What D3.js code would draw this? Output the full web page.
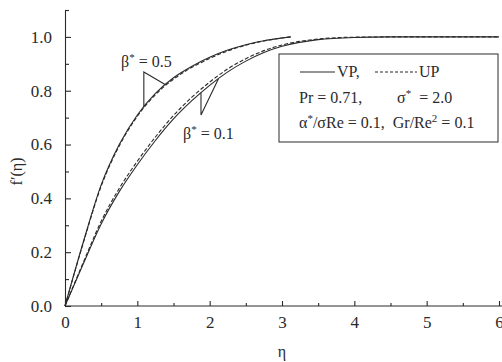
<!DOCTYPE html>
<html>
<head>
<meta charset="utf-8">
<script src="https://cdn.jsdelivr.net/npm/d3@7"></script>
<style>
  body { margin: 0; background: #fff; }
  svg text { font-family: "Liberation Serif", "Times New Roman", "DejaVu Serif", serif !important; }
  .axis path, .axis line { stroke: #2a2a2a; stroke-width: 1.1; }
  .axis text { font-size: 17px; fill: #2a2a2a; }
  .curve { fill: none; stroke: #2a2a2a; stroke-width: 1.1; }
  .lbl { font-size: 16px; fill: #2a2a2a; }
</style>
</head>
<body>
<div id="chart"></div>
<script>
// eta grid for each curve
const etaHigh = [0, 0.25, 0.5, 0.75, 1.0, 1.25, 1.5, 1.75, 2.0, 2.25, 2.5, 2.75, 3.0, 3.12];
const etaLow  = [0, 0.25, 0.5, 0.75, 1.0, 1.25, 1.5, 1.75, 2.0, 2.25, 2.5, 2.75, 3.0, 3.5, 4.0, 4.5, 5.0, 5.5, 6.0];

// beta* = 0.5
const vpHigh = [0, 0.235, 0.45, 0.60, 0.71, 0.79, 0.848, 0.89, 0.924, 0.951, 0.971, 0.986, 0.996, 1.0];
const upHigh = [0, 0.232, 0.445, 0.595, 0.705, 0.785, 0.843, 0.886, 0.92, 0.948, 0.969, 0.985, 0.996, 1.0];
// beta* = 0.1
const vpLow = [0, 0.155, 0.305, 0.425, 0.525, 0.615, 0.695, 0.762, 0.82, 0.87, 0.91, 0.942, 0.965, 0.99, 0.998, 1.0, 1.0, 1.0, 1.0];
const upLow = [0, 0.16, 0.315, 0.437, 0.538, 0.628, 0.708, 0.775, 0.832, 0.881, 0.919, 0.949, 0.97, 0.992, 0.999, 1.0, 1.0, 1.0, 1.0];

const xMajor = [0, 1, 2, 3, 4, 5, 6];
const xMinor = [0.5, 1.5, 2.5, 3.5, 4.5, 5.5];
const yMajor = [0.0, 0.2, 0.4, 0.6, 0.8, 1.0];
const yMinor = [0.1, 0.3, 0.5, 0.7, 0.9, 1.1];

const width = 502, height = 362;
const serif = "Liberation Serif, Times New Roman, serif";

const svg = d3.select("#chart").append("svg")
  .attr("width", width).attr("height", height)
  .attr("font-family", serif);

const x = d3.scaleLinear().domain([0, 6]).range([65, 499]);
const y = d3.scaleLinear().domain([0, 1.1]).range([306, 10]);

// axes, ticks point inward
svg.append("g").attr("class", "axis")
  .attr("transform", `translate(0,${y(0)})`)
  .call(d3.axisBottom(x).tickValues(xMinor).tickSize(-3).tickSizeOuter(0).tickFormat(""))
  .call(g => g.select(".domain").attr("d", `M${x(0)},0H${width}`));
svg.append("g").attr("class", "axis")
  .attr("transform", `translate(0,${y(0)})`)
  .call(d3.axisBottom(x).tickValues(xMajor).tickSize(-5).tickPadding(10).tickFormat(d3.format("d")))
  .call(g => g.select(".domain").remove());

svg.append("g").attr("class", "axis")
  .attr("transform", `translate(${x(0)},0)`)
  .call(d3.axisLeft(y).tickValues(yMinor).tickSize(-4).tickSizeOuter(0).tickFormat(""));
svg.append("g").attr("class", "axis")
  .attr("transform", `translate(${x(0)},0)`)
  .call(d3.axisLeft(y).tickValues(yMajor).tickSize(-6).tickPadding(13).tickFormat(d3.format(".1f")))
  .call(g => g.select(".domain").remove());

svg.selectAll(".axis").attr("font-family", serif);

// axis titles
svg.append("text").attr("class", "lbl")
  .attr("x", x(3)).attr("y", 357).attr("text-anchor", "middle").text("η");
svg.append("text").attr("class", "lbl")
  .attr("transform", `translate(22,${y(0.5)}) rotate(-90)`)
  .attr("text-anchor", "middle").text("f′(η)");

// curves
const line = d3.line().x(d => x(d[0])).y(d => y(d[1])).curve(d3.curveMonotoneX);
const curves = [
  { eta: etaHigh, f: vpHigh, dash: null },
  { eta: etaHigh, f: upHigh, dash: "4,2" },
  { eta: etaLow, f: vpLow, dash: null },
  { eta: etaLow, f: upLow, dash: "4,2" }
];
curves.forEach(c => {
  svg.append("path").attr("class", "curve")
    .attr("d", line(c.eta.map((e, i) => [e, c.f[i]])))
    .attr("stroke-dasharray", c.dash);
});

// beta annotations
function betaLabel(tx, ty, val) {
  const t = svg.append("text").attr("class", "lbl").attr("x", tx).attr("y", ty);
  t.append("tspan").text("β");
  t.append("tspan").attr("dy", -6).attr("font-size", 11).text("*");
  t.append("tspan").attr("dy", 6).text(" = " + val);
}
betaLabel(121, 67, "0.5");
betaLabel(183, 139, "0.1");

// leader lines from a vertex to two points on a curve
function leader(vx, vy, etaArr, fArr, e1, e2) {
  const at = e => {
    const i = d3.bisectLeft(etaArr, e);
    const t = (e - etaArr[i - 1]) / (etaArr[i] - etaArr[i - 1]);
    return fArr[i - 1] + t * (fArr[i] - fArr[i - 1]);
  };
  svg.append("path").attr("class", "curve")
    .attr("d", `M${x(e1)},${y(at(e1))}L${vx},${vy}L${x(e2)},${y(at(e2))}`);
}
leader(x(1.09), 72, etaHigh, vpHigh, 1.09, 1.39);
leader(x(1.88), 115, etaLow, vpLow, 1.88, 2.12);

// legend box
const lg = svg.append("g");
lg.append("rect").attr("x", 279).attr("y", 54).attr("width", 219).attr("height", 88)
  .attr("fill", "#fff").attr("stroke", "#2a2a2a").attr("stroke-width", 1);
lg.append("line").attr("x1", 300).attr("x2", 335).attr("y1", 72).attr("y2", 72)
  .attr("stroke", "#2a2a2a").attr("stroke-width", 1.1);
lg.append("text").attr("class", "lbl").attr("x", 337).attr("y", 77).text("VP,");
lg.append("line").attr("x1", 375).attr("x2", 417).attr("y1", 72).attr("y2", 72)
  .attr("stroke", "#2a2a2a").attr("stroke-width", 1.1).attr("stroke-dasharray", "3,2");
lg.append("text").attr("class", "lbl").attr("x", 419).attr("y", 77).text("UP");

lg.append("text").attr("class", "lbl").attr("x", 299).attr("y", 103).text("Pr = 0.71,");
const s = lg.append("text").attr("class", "lbl").attr("x", 397).attr("y", 103)
  .attr("xml:space", "preserve");
s.append("tspan").text("σ");
s.append("tspan").attr("dy", -6).attr("font-size", 11).text("*");
s.append("tspan").attr("dy", 6).text("  = 2.0");

const t3 = lg.append("text").attr("class", "lbl").attr("x", 299).attr("y", 128)
  .attr("xml:space", "preserve");
t3.append("tspan").text("α");
t3.append("tspan").attr("dy", -6).attr("font-size", 11).text("*");
t3.append("tspan").attr("dy", 6).text("/σRe = 0.1,  Gr/Re");
t3.append("tspan").attr("dy", -6).attr("font-size", 11).text("2");
t3.append("tspan").attr("dy", 6).text(" = 0.1");
</script>
</body>
</html>
